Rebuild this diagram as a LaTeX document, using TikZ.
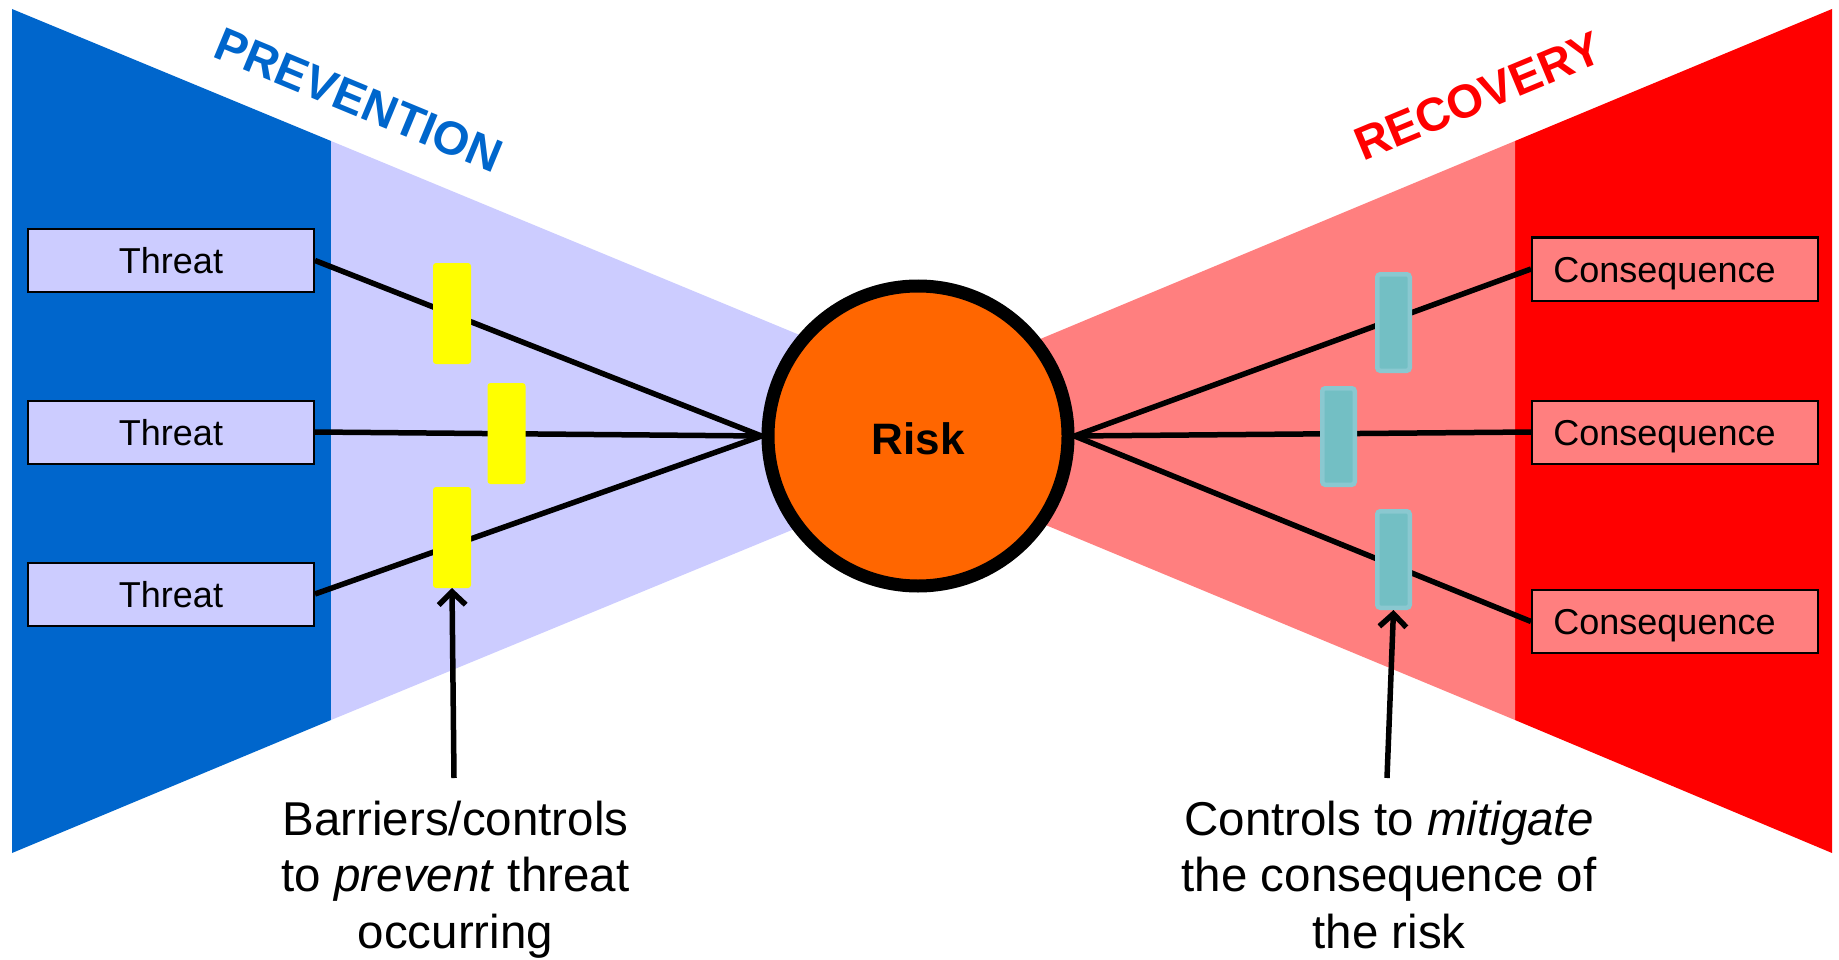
\documentclass[tikz,border=0pt]{standalone}
\usepackage{fontspec}
\setmainfont{Liberation Sans}
\usetikzlibrary{arrows.meta}
\definecolor{cblue}{HTML}{0066CC}
\definecolor{cpurple}{HTML}{CCCCFF}
\definecolor{cred}{HTML}{FF0000}
\definecolor{cpink}{HTML}{FF7F7F}
\definecolor{corange}{HTML}{FF6600}
\definecolor{cyellow}{HTML}{FFFF00}
\definecolor{cteal}{HTML}{73BFC4}
\definecolor{ctealb}{HTML}{8AC8D0}
\pgfdeclareradialshading{vign}{\pgfpoint{0bp}{0bp}}{color(0bp)=(white); color(30bp)=(white); color(50bp)=(black!13); color(100bp)=(black!13)}
\begin{document}
\begin{tikzpicture}[x=1pt,y=-1pt,
  threat/.style={draw=black, line width=2pt, fill=cpurple, minimum width=286pt, minimum height=63pt, inner sep=0pt, text height=26pt, text depth=0pt, font=\fontsize{36}{43}\selectfont},
  cons/.style={threat, fill=cpink},
  ybar/.style={fill=cyellow, rounded corners=3pt, minimum width=38pt, minimum height=101pt, inner sep=0pt, outer sep=0pt},
  tbar/.style={fill=cteal, draw=ctealb, line width=4.5pt, rounded corners=3pt, minimum width=32.5pt, minimum height=96.5pt, inner sep=0pt},
  link/.style={line width=5.5pt},
  pointer/.style={line width=5.5pt, -{Straight Barb[length=13pt,width=27pt]}},
  lbl/.style={font=\fontsize{47.5}{56}\selectfont, anchor=base, inner sep=0pt},
  title/.style={font=\bfseries\fontsize{47}{50}\selectfont, inner sep=0pt}]
\useasboundingbox (0,0) rectangle (1839,960);
\begin{scope}
\clip (0,0) rectangle (1839,960);
\shade[shading=vign] (-200,-400) rectangle (2039,1360);
\end{scope}
% bow-tie fields
\fill[cblue] (12,9) -- (331,141) -- (331,720) -- (12,853) -- cycle;
\fill[cpurple] (331,141) -- (918,384) -- (918,478) -- (331,720) -- cycle;
\fill[cred] (1832,9) -- (1515,141) -- (1515,720) -- (1832,853) -- cycle;
\fill[cpink] (1515,141) -- (918,390) -- (918,472) -- (1515,720) -- cycle;
% titles
\node[title, text=cblue, rotate=-22.5] (prev) at (359,100) {PREVENTION};
\node[title, text=cred, rotate=22.6] (rec) at (1478,96) {RECOVERY};
% main nodes
\node[circle, draw=black, line width=13pt, fill=corange, minimum size=300pt, inner sep=0pt, text height=31.5pt, text depth=0pt, font=\bfseries\fontsize{44}{50}\selectfont] (risk) at (918,436) {\raisebox{-3pt}{Risk}};
\node[threat] (t1) at (171,260.5) {Threat};
\node[threat] (t2) at (171,432) {Threat};
\node[threat] (t3) at (171,594) {Threat};
\node[cons] (c1) at (1675,269) {Consequence\hspace*{21pt}};
\node[cons] (c2) at (1675,432) {Consequence\hspace*{21pt}};
\node[cons] (c3) at (1675,621.5) {Consequence\hspace*{21pt}};
% connectors
\draw[link] (t1.east) -- (risk.west);
\draw[link] (t2.east) -- (risk.west);
\draw[link] (t3.east) -- (risk.west);
\draw[link] (risk.east) -- (c1.west);
\draw[link] (risk.east) -- (c2.west);
\draw[link] (risk.east) -- (c3.west);
% barriers
\node[ybar] (y1) at (452,313.5) {};
\node[ybar] (y2) at (506.5,433.5) {};
\node[ybar] (y3) at (452,537.5) {};
\node[tbar] (g1) at (1393.5,322.5) {};
\node[tbar] (g2) at (1338.5,436.5) {};
\node[tbar] (g3) at (1393.5,559.5) {};
% pointers
\coordinate (pa) at (454,778);
\coordinate (pb) at (1387,778);
\draw[pointer] (pa) -- (y3.south);
\draw[pointer] (pb) -- (g3.south);
% labels
\node[lbl] (l1) at (455.5,835) {Barriers/controls};
\node[lbl] (l2) at (455.5,891) {to \textit{prevent} threat};
\node[lbl] (l3) at (455.5,948) {occurring};
\node[lbl] (r1) at (1389,835) {Controls to \textit{mitigate}};
\node[lbl] (r2) at (1389,891) {the consequence of};
\node[lbl] (r3) at (1389,948) {the risk};
\end{tikzpicture}
\end{document}
